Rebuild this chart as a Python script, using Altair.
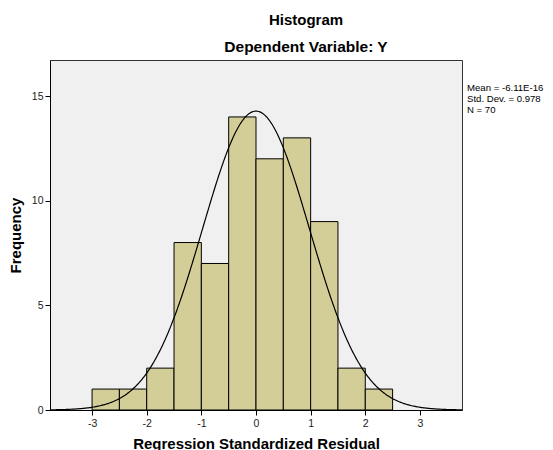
import altair as alt
import pandas as pd

bin_start = [-3.0, -2.5, -2.0, -1.5, -1.0, -0.5, 0.0, 0.5, 1.0, 1.5, 2.0]
bin_end = [-2.5, -2.0, -1.5, -1.0, -0.5, 0.0, 0.5, 1.0, 1.5, 2.0, 2.5]
counts = [1, 1, 2, 8, 7, 14, 12, 13, 9, 2, 1]
x_ticks = [-3, -2, -1, 0, 1, 2, 3]
y_ticks = [0, 5, 10, 15]
stat_lines = ["Mean = -6.11E-16", "Std. Dev. = 0.978", "N = 70"]
mean_val = -6.11e-16
sd_val = 0.978
n_val = 70
bin_width = 0.5

FONT = "Liberation Sans"
XDOM = [-3.77, 3.77]
YDOM = [0, 16.72]

bars_df = pd.DataFrame({"start": bin_start, "end": bin_end, "count": counts})

xscale = alt.Scale(domain=XDOM, nice=False, zero=False)
yscale = alt.Scale(domain=YDOM, nice=False)

bars = alt.Chart(bars_df).mark_rect(
    fill="#D3CE97", stroke="#000000", strokeWidth=1
).encode(
    x=alt.X("start:Q", scale=xscale,
            axis=alt.Axis(values=x_ticks, title="Regression Standardized Residual",
                          labelExpr="toString(datum.value)",
                          grid=False, tickSize=5, labelPadding=3, titlePadding=8)),
    x2="end:Q",
    y=alt.Y("count:Q", scale=yscale,
            axis=alt.Axis(values=y_ticks, title="Frequency", grid=False,
                          labelExpr="toString(datum.value)",
                          tickSize=5, labelPadding=2, titlePadding=8)),
    y2=alt.datum(0),
)

curve = alt.Chart(alt.sequence(XDOM[0], XDOM[1] + 0.001, 0.02, as_="x")).transform_calculate(
    y=f"{n_val}*{bin_width}*exp(-0.5*pow((datum.x-({mean_val}))/{sd_val},2))/({sd_val}*sqrt(2*PI))"
).mark_line(color="#000000", strokeWidth=1.2).encode(
    x=alt.X("x:Q", scale=xscale),
    y=alt.Y("y:Q", scale=yscale),
)

stats_df = pd.DataFrame({"t": ["\n".join(stat_lines)]})
stats = alt.Chart(stats_df).mark_text(
    align="left", baseline="top", font=FONT, fontSize=9.6, color="#000000",
    lineBreak="\n", lineHeight=11
).encode(
    x=alt.value(417),
    y=alt.value(23),
    text="t:N",
)

title1 = alt.Chart(pd.DataFrame({"t": ["Histogram"]})).mark_text(
    font=FONT, fontSize=15, fontWeight="bold", color="#000000", baseline="middle"
).encode(x=alt.value(256), y=alt.value(-40), text="t:N")

title2 = alt.Chart(pd.DataFrame({"t": ["Dependent Variable: Y"]})).mark_text(
    font=FONT, fontSize=15.5, fontWeight="bold", color="#000000", baseline="middle"
).encode(x=alt.value(256), y=alt.value(-13), text="t:N")

chart = alt.layer(bars, curve, stats, title1, title2).properties(
    width=412, height=350,
    autosize=alt.AutoSizeParams(type="none"),
    padding={"left": 42, "top": 52, "right": 83, "bottom": 40},
).configure_view(
    fill="#F0F0F0", stroke="#333333", strokeWidth=1
).configure_axis(
    labelFont=FONT, labelFontSize=10.5, labelColor="#222222",
    titleFont=FONT, titleFontSize=15, titleFontWeight="bold", titleColor="#000000",
    domainColor="#000000", tickColor="#000000",
)

chart.save("out.html", embed_options={"renderer": "svg", "actions": False})
